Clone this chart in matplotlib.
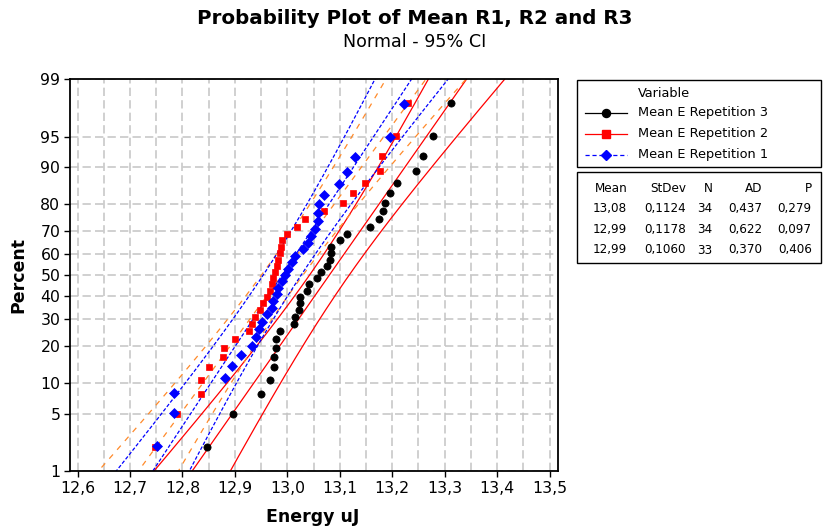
import numpy as np
import matplotlib
matplotlib.use("Agg")
import matplotlib.pyplot as plt
from matplotlib.lines import Line2D
from matplotlib.patches import Rectangle
from matplotlib.ticker import FuncFormatter, FixedLocator
from statistics import NormalDist

# ---------------- data ----------------
rep3 = [12.846, 12.897, 12.949, 12.966, 12.975, 12.975, 12.978, 12.978, 12.986,
        13.013, 13.015, 13.023, 13.024, 13.025, 13.038, 13.041, 13.057, 13.065,
        13.076, 13.083, 13.081, 13.083, 13.100, 13.114, 13.158, 13.175, 13.183,
        13.186, 13.196, 13.210, 13.245, 13.259, 13.277, 13.313]
rep2 = [12.748, 12.790, 12.835, 12.835, 12.851, 12.877, 12.879, 12.901, 12.927,
        12.932, 12.938, 12.948, 12.954, 12.961, 12.967, 12.970, 12.973, 12.976,
        12.980, 12.983, 12.986, 12.988, 12.989, 12.999, 13.018, 13.034, 13.070,
        13.107, 13.125, 13.148, 13.176, 13.180, 13.208, 13.231]
rep1 = [12.752, 12.784, 12.784, 12.882, 12.895, 12.912, 12.932, 12.940, 12.945,
        12.951, 12.961, 12.970, 12.973, 12.980, 12.983, 12.989, 12.995, 13.001,
        13.008, 13.015, 13.030, 13.040, 13.046, 13.053, 13.059, 13.059, 13.061,
        13.069, 13.099, 13.114, 13.129, 13.196, 13.223]

series_names = ["Mean E Repetition 3", "Mean E Repetition 2", "Mean E Repetition 1"]
mean_vals = [13.08, 12.99, 12.99]
stdev_vals = [0.1124, 0.1178, 0.1060]
n_vals = [34, 34, 33]
table_header = ["Mean", "StDev", "N", "AD", "P"]
table_mean = ["13,08", "12,99", "12,99"]
table_stdev = ["0,1124", "0,1178", "0,1060"]
table_n = ["34", "34", "33"]
table_ad = ["0,437", "0,622", "0,370"]
table_p = ["0,279", "0,097", "0,406"]

x_ticks = [12.6, 12.7, 12.8, 12.9, 13.0, 13.1, 13.2, 13.3, 13.4, 13.5]
pct_ticks = [1, 5, 10, 20, 30, 40, 50, 60, 70, 80, 90, 95, 99]

title = "Probability Plot of Mean R1, R2 and R3"
subtitle = "Normal - 95% CI"
xlabel = "Energy uJ"
ylabel = "Percent"

# ---------------- styling ----------------
W, H = 829, 531
plt.rcParams["font.family"] = ["DejaVu Sans"]
plt.rcParams["lines.scale_dashes"] = False

def fx(px):
    return px / W

def fy(py):
    return 1 - py / H

fig = plt.figure(figsize=(W / 100, H / 100), dpi=100)
renderer = fig.canvas.get_renderer()

def fit_size(sample, target_px, weight="normal"):
    t = fig.text(0, 0, sample, fontsize=10, fontweight=weight)
    w = t.get_window_extent(renderer).width
    t.remove()
    return 10.0 * target_px / w

ax = fig.add_axes([fx(70), fy(471), fx(558) - fx(70), fy(79.3) - fy(471)])

nd = NormalDist()
_ppf = np.vectorize(nd.inv_cdf, otypes=[float])
_cdf = np.vectorize(nd.cdf, otypes=[float])

def fwd(p):
    p = np.asarray(p, dtype=float)
    q = np.clip(p / 100.0, 1e-12, 1 - 1e-12)
    return _ppf(q)

def inv(z):
    z = np.asarray(z, dtype=float)
    return 100.0 * _cdf(z)

ax.set_yscale("function", functions=(fwd, inv))

mk_styles = [
    dict(marker="o", color="black", ms=5.2),
    dict(marker="s", color="#ff0000", ms=5.0),
    dict(marker="D", color="#0000ff", ms=4.8),
]
line_styles = [
    dict(color="#ff0000", ls="-", lw=0.9),
    dict(color="#ff8a2a", ls=(0, (4.0, 4.5)), lw=0.9),
    dict(color="#0000ff", ls=(0, (2.6, 1.4)), lw=0.9),
]
legend_lines = [
    dict(color="black", ls="-", lw=0.9),
    dict(color="#ff0000", ls="-", lw=0.9),
    dict(color="#0000ff", ls=(0, (3.0, 2.0)), lw=0.9),
]

# fitted lines and 95% CI bounds
zg = np.linspace(-2.6, 2.6, 300)
pg = inv(zg)
for mu, sd, n, st in zip(mean_vals, stdev_vals, n_vals, line_styles):
    xp = mu + zg * sd
    half = 1.96 * sd * np.sqrt(1.0 / n + zg ** 2 / (2.0 * n))
    for xx in (xp - half, xp, xp + half):
        ax.plot(xx, pg, zorder=2, **st)

# data points
for data, st in zip([rep3, rep2, rep1], mk_styles):
    d = np.sort(np.asarray(data))
    n = len(d)
    pct = 100.0 * (np.arange(1, n + 1) - 0.3) / (n + 0.4)
    ax.plot(d, pct, ls="none", marker=st["marker"], ms=st["ms"],
            mfc=st["color"], mec=st["color"], mew=0.5, zorder=3)

ax.set_xlim(12.5855, 13.5161)
ax.set_ylim(1, 99)

ax.xaxis.set_major_locator(FixedLocator(x_ticks))
ax.xaxis.set_minor_locator(FixedLocator(list(np.arange(12.65, 13.5, 0.1))))
ax.xaxis.set_major_formatter(FuncFormatter(lambda v, pos: f"{v:.1f}".replace(".", ",")))
ax.yaxis.set_major_locator(FixedLocator(pct_ticks))
ax.yaxis.set_minor_locator(FixedLocator([]))
ax.yaxis.set_major_formatter(FuncFormatter(lambda v, pos: f"{v:g}"))

grid_kw = dict(color="#c4c4c4", lw=1.1, ls=(0, (6.0, 3.0)))
ax.grid(True, which="major", axis="both", **grid_kw)
ax.grid(True, which="minor", axis="x", **grid_kw)
ax.set_axisbelow(True)

fs_tick = fit_size("12,6", 35)
ax.tick_params(axis="both", which="major", direction="out", length=4, width=1.0,
               labelsize=fs_tick, colors="black", pad=3)
ax.tick_params(axis="x", which="minor", length=0)
for s in ax.spines.values():
    s.set_linewidth(1.3)
    s.set_color("black")

# titles and axis labels
fig.text(0.5, fy(18), title, ha="center", va="center",
         fontsize=fit_size(title, 436, "bold"), fontweight="bold")
fig.text(0.5, fy(42), subtitle, ha="center", va="center",
         fontsize=fit_size(subtitle, 142))
fs_lab = fit_size(xlabel, 93, "bold")
fig.text(fx(313), fy(517), xlabel, ha="center", va="center", fontsize=fs_lab, fontweight="bold")
fig.text(fx(18), fy(275), ylabel, ha="center", va="center", fontsize=fs_lab,
         fontweight="bold", rotation=90)

# legend box
fig.add_artist(Rectangle((fx(577.3), fy(166.7)), fx(820.7) - fx(577.3), fy(80) - fy(166.7),
                         transform=fig.transFigure, fill=False, ec="black", lw=1.0))
fs_leg = fit_size("Mean E Repetition 3", 130)
fig.text(fx(638), fy(93.3), "Variable", ha="left", va="center", fontsize=fs_leg)
row_y = [112.7, 134, 155]
for name, ry, lst, mst in zip(series_names, row_y, legend_lines, mk_styles):
    fig.add_artist(Line2D([fx(585), fx(627)], [fy(ry), fy(ry)], transform=fig.transFigure, **lst))
    fig.add_artist(Line2D([fx(606)], [fy(ry)], transform=fig.transFigure, ls="none",
                          marker=mst["marker"], ms=mst["ms"] + 0.6, mfc=mst["color"],
                          mec=mst["color"]))
    fig.text(fx(638), fy(ry), name, ha="left", va="center", fontsize=fs_leg)

# statistics table
fig.add_artist(Rectangle((fx(577.3), fy(263.3)), fx(820.7) - fx(577.3), fy(171.7) - fy(263.3),
                         transform=fig.transFigure, fill=False, ec="black", lw=1.0))
fs_tab = fit_size("0,1124", 42)
col_right = [627.3, 686, 712.7, 762.7, 811.7]
for h, cx in zip(table_header, col_right):
    fig.text(fx(cx), fy(188.3), h, ha="right", va="center", fontsize=fs_tab)
rows_y = [208.3, 229, 250]
for i, ry in enumerate(rows_y):
    vals = [table_mean[i], table_stdev[i], table_n[i], table_ad[i], table_p[i]]
    for v, cx in zip(vals, col_right):
        fig.text(fx(cx), fy(ry), v, ha="right", va="center", fontsize=fs_tab)

fig.savefig("out.png", dpi=100)
